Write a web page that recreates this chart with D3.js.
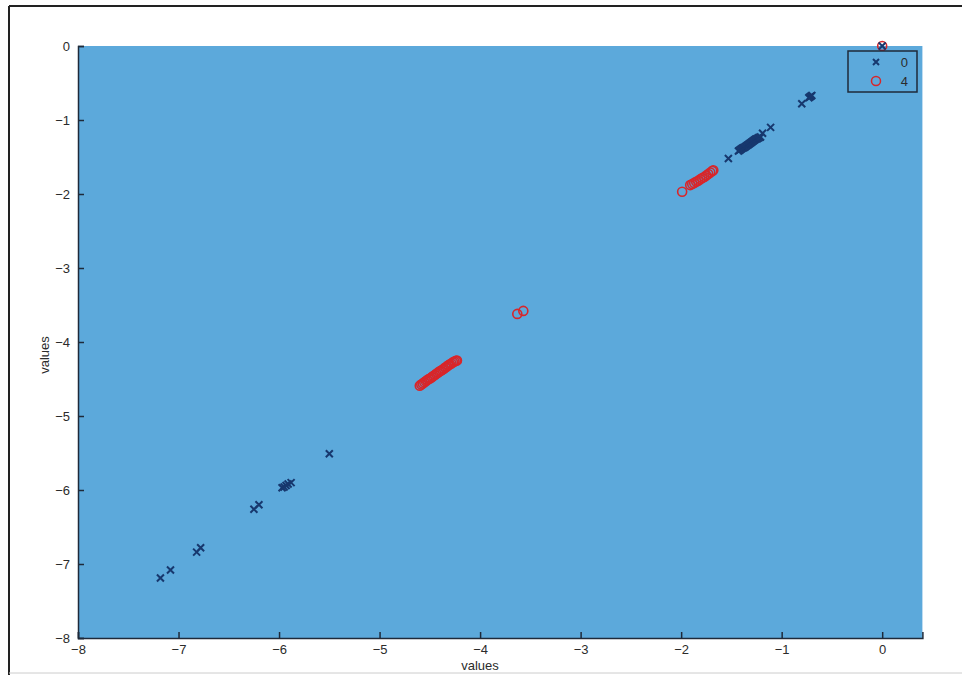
<!DOCTYPE html>
<html>
<head>
<meta charset="utf-8">
<script src="https://d3js.org/d3.v7.min.js"></script>
<style>
  body { margin: 0; background: #fff; }
  svg text { font-family: "Liberation Sans", Arial, sans-serif; fill: #2b2b2b; }
</style>
</head>
<body>
<div class="chart"></div>
<script>
// series "0" (crosses)
const zeroX = [-7.18, -7.08, -6.82, -6.78, -6.25, -6.20, -5.97, -5.95, -5.93, -5.91, -5.88, -5.50,
  -1.53,
  -1.43, -1.42, -1.41, -1.40, -1.39, -1.38, -1.37, -1.36, -1.35, -1.34, -1.33, -1.32,
  -1.31, -1.30, -1.29, -1.28, -1.27, -1.26, -1.25, -1.24, -1.23, -1.22, -1.21,
  -1.19, -1.11, -0.80, -0.73, -0.72, -0.71, -0.70, 0];
const zeroY = [-7.19, -7.08, -6.84, -6.78, -6.26, -6.20, -5.97, -5.96, -5.94, -5.92, -5.90, -5.51,
  -1.52,
  -1.42, -1.41, -1.40, -1.39, -1.38, -1.375, -1.37, -1.36, -1.35, -1.34, -1.33, -1.32,
  -1.31, -1.30, -1.29, -1.28, -1.27, -1.26, -1.255, -1.25, -1.24, -1.235, -1.23,
  -1.18, -1.10, -0.78, -0.70, -0.69, -0.68, -0.67, 0];
// series "4" (circles)
const fourX = [-4.60, -4.585, -4.57, -4.555, -4.54, -4.525, -4.51, -4.495, -4.48, -4.465, -4.45,
  -4.435, -4.42, -4.405, -4.39, -4.375, -4.36, -4.345, -4.33, -4.315, -4.30, -4.285, -4.27,
  -4.255, -4.24, -4.23,
  -3.63, -3.57,
  -1.99,
  -1.91, -1.89, -1.87, -1.85, -1.83, -1.81, -1.79, -1.77, -1.75, -1.73, -1.71, -1.69, -1.68,
  0];
const fourY = [-4.59, -4.575, -4.56, -4.545, -4.53, -4.515, -4.50, -4.49, -4.475, -4.46, -4.445,
  -4.43, -4.415, -4.40, -4.39, -4.375, -4.36, -4.345, -4.33, -4.315, -4.30, -4.29, -4.275,
  -4.265, -4.255, -4.25,
  -3.62, -3.58,
  -1.97,
  -1.88, -1.865, -1.85, -1.835, -1.82, -1.80, -1.785, -1.77, -1.75, -1.73, -1.71, -1.69, -1.68,
  0];

const xTicks = [-8, -7, -6, -5, -4, -3, -2, -1, 0];
const yTicks = [0, -1, -2, -3, -4, -5, -6, -7, -8];
const seriesNames = ["0", "4"];

const W = 962, H = 675;
const svg = d3.select(".chart").append("svg")
  .attr("width", W).attr("height", H);

// scanned page frame
svg.append("line").attr("x1", 9).attr("x2", W).attr("y1", 6).attr("y2", 6)
  .attr("stroke", "#222").attr("stroke-width", 2);
svg.append("line").attr("x1", 9).attr("x2", 9).attr("y1", 6).attr("y2", H)
  .attr("stroke", "#222").attr("stroke-width", 2);
svg.append("line").attr("x1", 9).attr("x2", W).attr("y1", 673).attr("y2", 673)
  .attr("stroke", "#ccc").attr("stroke-width", 1);

const x = d3.scaleLinear().domain([-8, 0.4]).range([78, 922.4]);
const y = d3.scaleLinear().domain([-8, 0]).range([638, 46]);

svg.append("rect")
  .attr("x", x(-8)).attr("y", y(0))
  .attr("width", x(0.4) - x(-8)).attr("height", y(-8) - y(0))
  .attr("fill", "#5ca9db");

const xAxis = d3.axisBottom(x).tickValues(xTicks).tickSize(-6).tickPadding(7)
  .tickFormat(d => d3.format("d")(d).replace("-", "\u2212"));
const yAxis = d3.axisLeft(y).tickValues(yTicks).tickSize(-6).tickPadding(8)
  .tickFormat(d => d3.format("d")(d).replace("-", "\u2212"));

const gx = svg.append("g").attr("transform", `translate(0,${y(-8)})`).call(xAxis);
const gy = svg.append("g").attr("transform", `translate(${x(-8)},0)`).call(yAxis);
[gx, gy].forEach(g => {
  g.select(".domain").attr("stroke", "#1e2a3a").attr("stroke-width", 1.5);
  g.selectAll(".tick line").attr("stroke", "#1e2a3a").attr("stroke-width", 1.5);
  g.selectAll("text").attr("font-size", 13).attr("fill", "#2b2b2b")
    .attr("font-family", "Liberation Sans, Arial, sans-serif");
});

svg.append("text").attr("x", 480).attr("y", 670)
  .attr("text-anchor", "middle").attr("font-size", 13).text("values");
svg.append("text").attr("transform", "translate(49,355) rotate(-90)")
  .attr("text-anchor", "middle").attr("font-size", 13).text("values");

const blue = "#17386e", red = "#d8262a";

function cross(g, cx, cy, s, color) {
  g.append("path")
    .attr("d", `M${cx - s},${cy - s}L${cx + s},${cy + s}M${cx - s},${cy + s}L${cx + s},${cy - s}`)
    .attr("stroke", color).attr("stroke-width", 2).attr("fill", "none");
}

const pts = svg.append("g");
d3.range(fourX.length).forEach(i => {
  pts.append("circle").attr("cx", x(fourX[i])).attr("cy", y(fourY[i])).attr("r", 4.5)
    .attr("fill", "none").attr("stroke", red).attr("stroke-width", 1.6);
});
d3.range(zeroX.length).forEach(i => cross(pts, x(zeroX[i]), y(zeroY[i]), 3.5, blue));

// legend
const lg = svg.append("g").attr("transform", "translate(848,51)");
lg.append("rect").attr("width", 69).attr("height", 41)
  .attr("fill", "#5ca9db").attr("stroke", "#1e2a3a").attr("stroke-width", 1.5);
seriesNames.forEach((name, i) => {
  const ry = 11 + i * 19;
  if (i === 0) cross(lg, 28, ry, 3, blue);
  else lg.append("circle").attr("cx", 28).attr("cy", ry).attr("r", 4.5)
    .attr("fill", "none").attr("stroke", red).attr("stroke-width", 1.5);
  lg.append("text").attr("x", 60).attr("y", ry + 5).attr("text-anchor", "end")
    .attr("font-size", 13).text(name);
});
</script>
</body>
</html>
